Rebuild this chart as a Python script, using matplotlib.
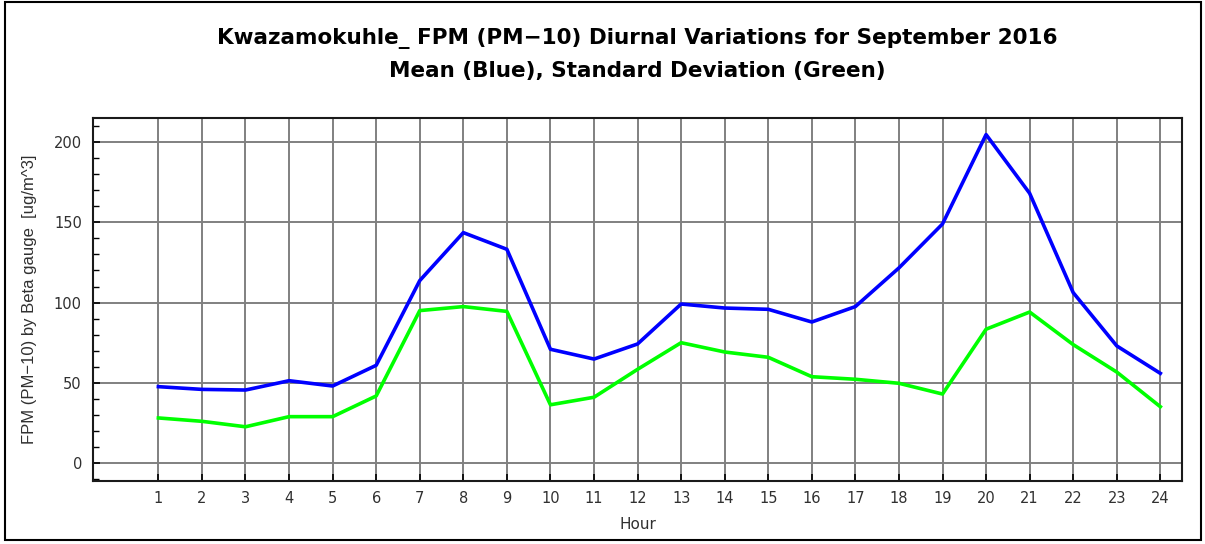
import matplotlib
matplotlib.use("Agg")
import matplotlib.pyplot as plt
from matplotlib.patches import Rectangle
from matplotlib.ticker import MultipleLocator

hours = list(range(1, 25))
mean_vals = [47.6, 45.9, 45.5, 51.3, 48.0, 60.9, 113.7, 143.6, 133.2, 70.9, 64.8, 74.2,
             99.1, 96.6, 95.8, 87.9, 97.5, 121.6, 149.0, 204.7, 168.1, 106.2, 73.0, 55.9]
std_vals = [28.1, 26.0, 22.6, 28.9, 28.9, 41.8, 95.0, 97.5, 94.5, 36.3, 41.0, 58.4,
            75.0, 69.2, 65.9, 53.8, 52.2, 49.7, 43.0, 83.4, 94.1, 73.8, 56.7, 35.1]
y_ticks = [0, 50, 100, 150, 200]

plt.rcParams['font.family'] = ['DejaVu Sans']

fig = plt.figure(figsize=(12.05, 5.44), dpi=100)
ax = fig.add_axes([0.0772, 0.1158, 0.9038, 0.6672])

ax.plot(hours, mean_vals, color='#0000ff', lw=2.6, zorder=3)
ax.plot(hours, std_vals, color='#00ff00', lw=2.6, zorder=3)

ax.set_xlim(-0.5, 24.5)
ax.set_ylim(-11.2, 215)
ax.set_xticks(hours)
ax.set_yticks(y_ticks)
ax.yaxis.set_minor_locator(MultipleLocator(10))
ax.grid(True, which='major', color='#808080', lw=1.4, zorder=1)
ax.tick_params(axis='both', which='major', direction='in', length=5, width=1.2,
               labelsize=10.5, labelcolor='#303030')
ax.tick_params(axis='y', which='minor', direction='in', length=4, width=1.0)
ax.tick_params(axis='x', pad=7)
ax.tick_params(axis='y', pad=8)
for s in ax.spines.values():
    s.set_linewidth(1.5)
    s.set_color('#1a1a1a')

ax.set_xlabel('Hour', fontsize=11, color='#303030', labelpad=8)
ax.set_ylabel('FPM (PM\u221210) by Beta gauge  [ug/m^3]', fontsize=12, color='#303030',
              labelpad=12, family='Liberation Sans')

fig.text(0.529, 0.93, 'Kwazamokuhle_ FPM (PM\u221210) Diurnal Variations for September 2016',
         ha='center', va='center', fontsize=15.5, fontweight='bold')
fig.text(0.529, 0.869, 'Mean (Blue), Standard Deviation (Green)',
         ha='center', va='center', fontsize=15.5, fontweight='bold')

fig.patches.append(Rectangle((0.004, 0.008), 0.993, 0.988, transform=fig.transFigure,
                             fill=False, edgecolor='black', lw=1.5))

fig.savefig('out.png', dpi=100)
